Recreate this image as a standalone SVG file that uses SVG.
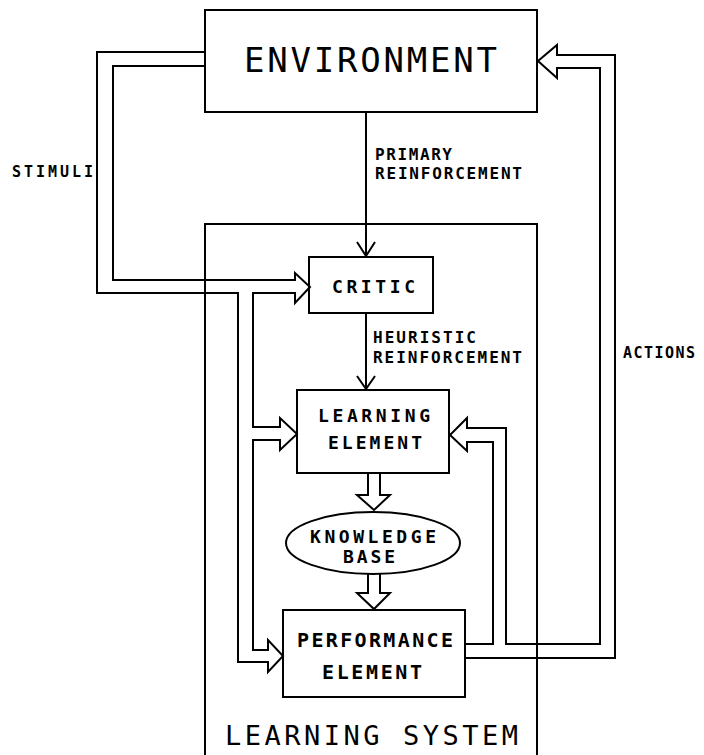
<svg xmlns="http://www.w3.org/2000/svg" width="704" height="755" viewBox="0 0 704 755">
<style>
.box{fill:none;stroke:#000;stroke-width:2}
.ln{fill:none;stroke:#000;stroke-width:2;stroke-linejoin:miter}
.big{font-family:"DejaVu Sans Mono","Liberation Mono",monospace;fill:#000}
.lbl{font-family:"DejaVu Sans Mono","Liberation Mono",monospace;font-weight:bold;fill:#000}
</style>
<rect width="704" height="755" fill="#fff"/>
<g id="connectors">
  <polyline class="ln" points="205,52 97,52 97,293 238,293 238,662 268,662 268,672 283,656 268,640 268,650 253,650 253,440 280,440 280,450 297,434 280,418 280,427 253,427 253,293 295,293 295,303 310,287 295,273 295,280 113,280 113,66 205,66"/>
  <polyline class="ln" points="465,658 615,658 615,55 557,55 557,45 538,61 557,78 557,68 600,68 600,644 506,644 506,428 467,428 467,418 450,435 467,451 467,442 493,442 493,644 465,644"/>
  <line class="ln" x1="366" y1="112" x2="366" y2="256"/>
  <polyline class="ln" points="357,242 366,256 375,242"/>
  <line class="ln" x1="366" y1="313" x2="366" y2="389"/>
  <polyline class="ln" points="357,376 366,389 375,376"/>
  <polyline class="ln" points="368,473 368,495 357,495 374,510 390,495 380,495 380,473"/>
  <polyline class="ln" points="368,574 368,593 357,593 374,609 390,593 380,593 380,574"/>
</g>
<g id="learning-system">
  <polyline class="box" points="205,755 205,224 537,224 537,755"/>
  <text class="big" x="225" y="745" font-size="27" textLength="293" lengthAdjust="spacing">LEARNING SYSTEM</text>
</g>
<g id="environment">
  <rect class="box" x="205" y="10" width="332" height="102" fill="#fff"/>
  <text class="big" x="244" y="72" font-size="34" textLength="253" lengthAdjust="spacing">ENVIRONMENT</text>
</g>
<g id="critic">
  <rect class="box" x="309" y="257" width="124" height="56"/>
  <text class="lbl" x="332" y="293" font-size="18" textLength="83" lengthAdjust="spacing">CRITIC</text>
</g>
<g id="learning-element">
  <rect class="box" x="297" y="390" width="152" height="83"/>
  <text class="lbl" x="318" y="422" font-size="18" textLength="112" lengthAdjust="spacing">LEARNING</text>
  <text class="lbl" x="328" y="449" font-size="18" textLength="94" lengthAdjust="spacing">ELEMENT</text>
</g>
<g id="knowledge-base">
  <ellipse class="box" cx="373" cy="543" rx="87" ry="31"/>
  <text class="lbl" x="310" y="543" font-size="18" textLength="126" lengthAdjust="spacing">KNOWLEDGE</text>
  <text class="lbl" x="343" y="563" font-size="18" textLength="52" lengthAdjust="spacing">BASE</text>
</g>
<g id="performance-element">
  <rect class="box" x="283" y="610" width="182" height="87"/>
  <text class="lbl" x="297" y="647" font-size="20" textLength="156" lengthAdjust="spacing">PERFORMANCE</text>
  <text class="lbl" x="322" y="679" font-size="20" textLength="100" lengthAdjust="spacing">ELEMENT</text>
</g>
<g id="labels">
  <text class="lbl" x="12" y="177" font-size="15" textLength="81" lengthAdjust="spacing">STIMULI</text>
  <text class="lbl" x="623" y="358" font-size="15" textLength="72" lengthAdjust="spacing">ACTIONS</text>
  <text class="lbl" x="375" y="160" font-size="16" textLength="77" lengthAdjust="spacing">PRIMARY</text>
  <text class="lbl" x="375" y="179" font-size="16" textLength="147" lengthAdjust="spacing">REINFORCEMENT</text>
  <text class="lbl" x="373" y="343" font-size="16" textLength="103" lengthAdjust="spacing">HEURISTIC</text>
  <text class="lbl" x="373" y="363" font-size="16" textLength="149" lengthAdjust="spacing">REINFORCEMENT</text>
</g>
</svg>
